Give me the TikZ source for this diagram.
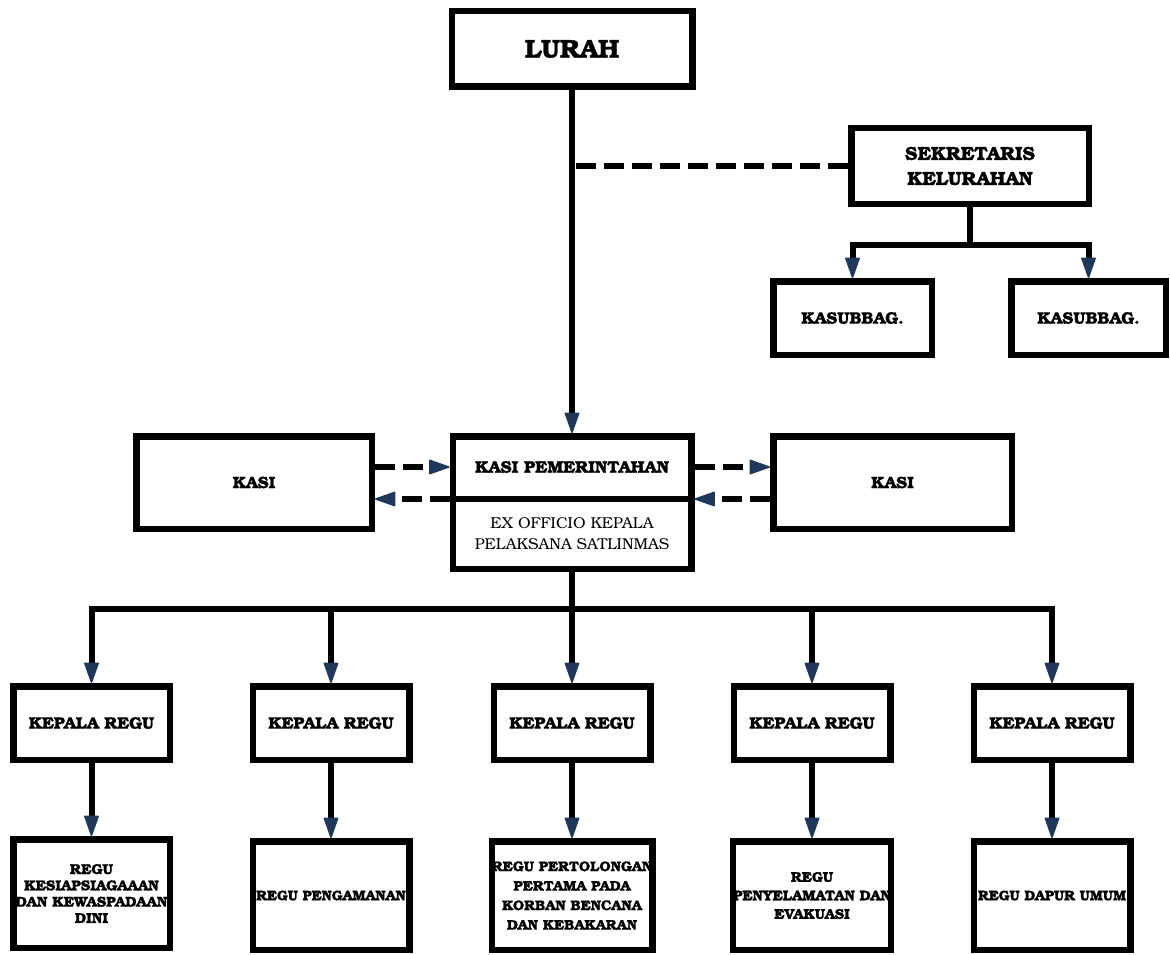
\documentclass[tikz,border=0pt]{standalone}
\usepackage{fontspec}
\setmainfont{TeX Gyre Bonum}[BoldFeatures={FakeBold=1.2}]
\usetikzlibrary{arrows.meta}
\definecolor{tipblue}{RGB}{31,56,92}

\begin{document}
\begin{tikzpicture}[x=1pt,y=-1pt,
  box/.style={draw=black, line width=6.5pt, fill=white, inner sep=0pt, align=center},
  midfont/.style={font=\fontsize{16.5}{19}\selectfont\bfseries},
  smallfont/.style={font=\fontsize{13.8}{16.5}\selectfont\bfseries},
  link/.style={line width=6pt, draw=black},
  dashlink/.style={link, dash pattern=on 20pt off 8pt},
  tip/.style={-{Triangle[length=22pt,width=15pt,line width=1.5pt,round,color=tipblue,fill=tipblue]}},
  kepala/.style={box, midfont, minimum width=156.5pt, minimum height=73.5pt},
  regu/.style={box, minimum width=156.5pt, minimum height=108.5pt},
]
\useasboundingbox (0,0) rectangle (1170,955);

% top level
\node[box, font=\fontsize{25.5}{28}\selectfont\bfseries, minimum width=240.5pt, minimum height=75.5pt]
  (lurah) at (572,49) {LURAH};
\node[box, font=\fontsize{18.8}{25}\selectfont\bfseries, minimum width=237.5pt, minimum height=75.5pt]
  (sek) at (970,166) {SEKRETARIS\\KELURAHAN};
\node[box, midfont, minimum width=158.5pt, minimum height=73.5pt] (ksb1) at (852.5,318) {KASUBBAG.};
\node[box, midfont, minimum width=154.5pt, minimum height=73.5pt] (ksb2) at (1088.5,318) {KASUBBAG.};

% section level
\node[box, minimum width=238.5pt, minimum height=132.5pt] (kasipem) at (572,502.5) {};
\node[box, midfont, minimum width=235.5pt, minimum height=92.5pt] (kasiL) at (254,482.5) {KASI};
\node[box, midfont, minimum width=238.5pt, minimum height=92.5pt] (kasiR) at (892.5,482.5) {KASI};
\coordinate (uy) at (0,467);
\coordinate (ly) at (0,499);
\draw[link] (kasipem.west |- ly) -- (kasipem.east |- ly);
\node[font=\fontsize{16.8}{19}\selectfont\bfseries, inner sep=0pt] (kpTitle) at (572,467) {KASI PEMERINTAHAN};
\node[font=\fontsize{15.7}{21}\selectfont, inner sep=0pt, align=center] (kpSub) at (572,534)
  {EX OFFICIO KEPALA\\PELAKSANA SATLINMAS};

% squad leaders
\node[kepala] (k1) at (91.5,723) {KEPALA REGU};
\node[kepala] (k2) at (331,723) {KEPALA REGU};
\node[kepala] (k3) at (572,723) {KEPALA REGU};
\node[kepala] (k4) at (812,723) {KEPALA REGU};
\node[kepala] (k5) at (1052,723) {KEPALA REGU};

% squads
\node[regu, font=\fontsize{14.3}{16.3}\selectfont\bfseries] (r1) at (91.5,893.5)
  {REGU\\KESIAPSIAGAAAN\\DAN KEWASPADAAN\\DINI};
\node[regu, smallfont] (r2) at (331,895.5) {REGU PENGAMANAN};
\node[regu, font=\fontsize{14}{19.5}\selectfont\bfseries] (r3) at (572,895.5)
  {REGU PERTOLONGAN\\PERTAMA PADA\\KORBAN BENCANA\\DAN KEBAKARAN};
\node[regu, font=\fontsize{14}{18.5}\selectfont\bfseries] (r4) at (812,895.5)
  {REGU\\PENYELAMATAN DAN\\EVAKUASI};
\node[regu, smallfont] (r5) at (1052,895.5) {REGU DAPUR UMUM};

% command line
\draw[link, tip] (lurah.south) -- (kasipem.north);
\coordinate (d0) at (576,166);
\draw[dashlink] (d0) -- (sek.west);

% secretary branch
\draw[link] (sek.south) -- ++(0,38) coordinate (sbus);
\draw[link, tip] (sbus) -| (ksb1.north);
\draw[link, tip] (sbus) -| (ksb2.north);

% coordination between sections
\draw[dashlink, tip] (kasiL.east |- uy) -- (kasipem.west |- uy);
\draw[dashlink, tip] (kasipem.east |- uy) -- (kasiR.west |- uy);
\draw[dashlink, tip] (kasiR.west |- ly) -- (kasipem.east |- ly);
\draw[dashlink, tip] (kasipem.west |- ly) -- (kasiL.east |- ly);

% squad bus
\draw[link] (kasipem.south) -- ++(0,37) coordinate (bus);
\foreach \k in {k1,k2,k3,k4,k5}
  \draw[link, tip] (bus) -| (\k.north);
\foreach \k/\r in {k1/r1,k2/r2,k3/r3,k4/r4,k5/r5}
  \draw[link, tip] (\k.south) -- (\r.north);
\end{tikzpicture}
\end{document}
